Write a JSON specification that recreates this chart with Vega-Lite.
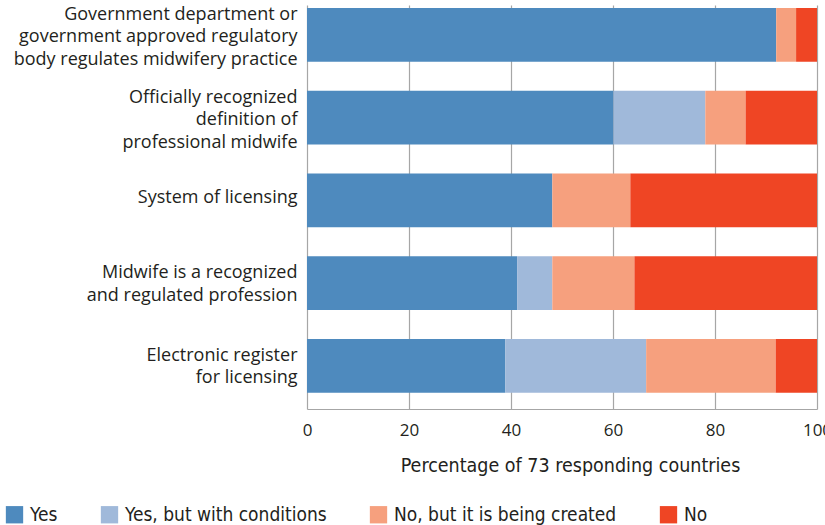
{
  "$schema": "https://vega.github.io/schema/vega-lite/v6.json",
  "width": 510,
  "height": 404,
  "autosize": "none",
  "padding": {"left": 307, "top": 5, "right": 8, "bottom": 116},
  "background": "white",
  "config": {
    "view": {"stroke": null},
    "font": "Open Sans"
  },
  "data": {
    "values": [
      {"item": "Government department or|government approved regulatory|body regulates midwifery practice", "response": "Yes", "k": 1, "pct": 92.0},
      {"item": "Government department or|government approved regulatory|body regulates midwifery practice", "response": "Yes, but with conditions", "k": 2, "pct": 0},
      {"item": "Government department or|government approved regulatory|body regulates midwifery practice", "response": "No, but it is being created", "k": 3, "pct": 3.9},
      {"item": "Government department or|government approved regulatory|body regulates midwifery practice", "response": "No", "k": 4, "pct": 4.1},
      {"item": "Officially recognized|definition of|professional midwife", "response": "Yes", "k": 1, "pct": 60.1},
      {"item": "Officially recognized|definition of|professional midwife", "response": "Yes, but with conditions", "k": 2, "pct": 18.0},
      {"item": "Officially recognized|definition of|professional midwife", "response": "No, but it is being created", "k": 3, "pct": 7.9},
      {"item": "Officially recognized|definition of|professional midwife", "response": "No", "k": 4, "pct": 14.0},
      {"item": "System of licensing", "response": "Yes", "k": 1, "pct": 48.1},
      {"item": "System of licensing", "response": "Yes, but with conditions", "k": 2, "pct": 0},
      {"item": "System of licensing", "response": "No, but it is being created", "k": 3, "pct": 15.3},
      {"item": "System of licensing", "response": "No", "k": 4, "pct": 36.6},
      {"item": "Midwife is a recognized|and regulated profession", "response": "Yes", "k": 1, "pct": 41.2},
      {"item": "Midwife is a recognized|and regulated profession", "response": "Yes, but with conditions", "k": 2, "pct": 6.9},
      {"item": "Midwife is a recognized|and regulated profession", "response": "No, but it is being created", "k": 3, "pct": 16.1},
      {"item": "Midwife is a recognized|and regulated profession", "response": "No", "k": 4, "pct": 35.8},
      {"item": "Electronic register|for licensing", "response": "Yes", "k": 1, "pct": 38.9},
      {"item": "Electronic register|for licensing", "response": "Yes, but with conditions", "k": 2, "pct": 27.6},
      {"item": "Electronic register|for licensing", "response": "No, but it is being created", "k": 3, "pct": 25.4},
      {"item": "Electronic register|for licensing", "response": "No", "k": 4, "pct": 8.1}
    ]
  },
  "mark": {"type": "bar"},
  "encoding": {
    "y": {
      "field": "item",
      "type": "nominal",
      "sort": null,
      "scale": {"paddingInner": 0.35, "paddingOuter": 0.116, "align": 0.16},
      "axis": {
        "title": null,
        "ticks": false,
        "domain": false,
        "labelExpr": "split(datum.label, '|')",
        "labelFontSize": 18,
        "labelLineHeight": 22.5,
        "labelColor": "#231f20",
        "labelPadding": 10,
        "labelLimit": 320,
        "labelBaseline": "middle",
        "labelOffset": {
          "condition": [
            {"test": "indexof(datum.label, 'body regulates') >= 0 || indexof(datum.label, 'professional midwife') >= 0", "value": -20},
            {"test": "indexof(datum.label, '|') >= 0", "value": -10}
          ],
          "value": -2
        }
      }
    },
    "x": {
      "field": "pct",
      "type": "quantitative",
      "stack": "zero",
      "scale": {"domain": [0, 100], "nice": false},
      "axis": {
        "title": "Percentage of 73 responding countries",
        "values": [0, 20, 40, 60, 80, 100],
        "ticks": false,
        "grid": true,
        "gridColor": "#a6a6a6",
        "gridWidth": 1.2,
        "domainColor": "#a6a6a6",
        "domainWidth": 1.2,
        "labelFontSize": 17,
        "labelColor": "#231f20",
        "labelPadding": 13,
        "labelFlush": false,
        "titleFont": "DejaVu Sans Condensed",
        "titleFontSize": 19.5,
        "titleFontWeight": "normal",
        "titleColor": "#231f20",
        "titlePadding": 18,
        "titleX": 263
      }
    },
    "color": {
      "field": "response",
      "type": "nominal",
      "scale": {
        "domain": ["Yes", "Yes, but with conditions", "No, but it is being created", "No"],
        "range": ["#4e8abe", "#a0b9da", "#f6a07e", "#ef4524"]
      },
      "legend": {
        "title": null,
        "orient": "none",
        "legendX": -302,
        "legendY": 500,
        "direction": "horizontal",
        "symbolType": "square",
        "symbolSize": 300,
        "symbolStrokeWidth": 0,
        "symbolOpacity": 1,
        "labelFont": "DejaVu Sans Condensed",
        "labelFontSize": 19,
        "labelColor": "#231f20",
        "labelOffset": 6,
        "columnPadding": 42,
        "labelLimit": 400
      }
    },
    "order": {"field": "k", "type": "quantitative"}
  }
}
